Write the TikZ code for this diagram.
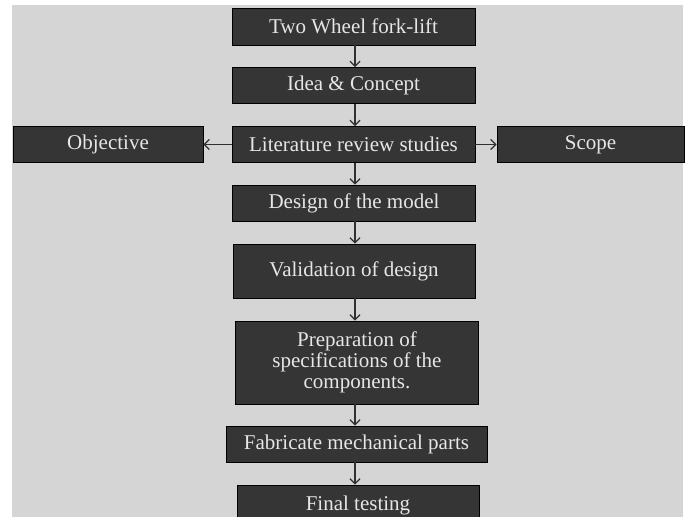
\documentclass[tikz,border=0pt]{standalone}
\usepackage{fontspec}
\setmainfont{Liberation Serif}
\usetikzlibrary{arrows.meta}
\definecolor{paper}{HTML}{D5D5D5}
\definecolor{boxfill}{HTML}{353535}
\definecolor{boxtext}{HTML}{E6E6E6}
\definecolor{wire}{HTML}{303030}
\begin{document}
\begin{tikzpicture}[x=1pt,y=-1pt]
\tikzstyle{every node}=[font=\fontsize{21}{21}\selectfont]
\tikzstyle{stage}=[draw=black,line width=0.8pt,fill=boxfill,text=boxtext,inner sep=0pt,align=center]
\tikzstyle{flow}=[wire,line width=1.3pt,-{Straight Barb[length=5pt,width=10pt,line width=1.3pt]}]
\clip (0,0) rectangle (686,517);
\fill[paper] (12,5) rectangle (683,517);
\coordinate (spine) at (355,0);
\node[stage,minimum width=243pt,minimum height=37pt] (twowheel) at (353.5,26.5) {Two Wheel fork-lift};
\node[stage,minimum width=243pt,minimum height=36pt] (idea) at (353.5,85.5) {Idea \& Concept};
\node[stage,minimum width=243pt,minimum height=36pt] (lit) at (353.5,144.5) {Literature review studies};
\node[stage,minimum width=190pt,minimum height=36pt] (obj) at (108,144.5) {Objective};
\node[stage,minimum width=187pt,minimum height=36pt] (scope) at (590.5,144.5) {Scope};
\node[stage,minimum width=243pt,minimum height=36pt] (design) at (354,203) {Design of the model};
\node[stage,minimum width=242pt,minimum height=54pt] (valid) at (354,271) {Validation of design};
\node[stage,minimum width=243pt,minimum height=83pt] (prep) at (357,362.5) {Preparation of\\specifications of the\\components.};
\node[stage,minimum width=261pt,minimum height=36pt] (fab) at (356.5,444) {Fabricate mechanical parts};
\node[stage,minimum width=242pt,minimum height=40pt] (final) at (358,505) {Final testing};
\draw[flow] (spine |- twowheel.south) -- (spine |- idea.north);
\draw[flow] (spine |- idea.south) -- (spine |- lit.north);
\draw[flow] (spine |- lit.south) -- (spine |- design.north);
\draw[flow] (spine |- design.south) -- (spine |- valid.north);
\draw[flow] (spine |- valid.south) -- (spine |- prep.north);
\draw[flow] (spine |- prep.south) -- (spine |- fab.north);
\draw[flow] (spine |- fab.south) -- (spine |- final.north);
\draw[flow] (lit.west) -- (obj.east);
\draw[flow] (lit.east) -- (scope.west);
\end{tikzpicture}
\end{document}
